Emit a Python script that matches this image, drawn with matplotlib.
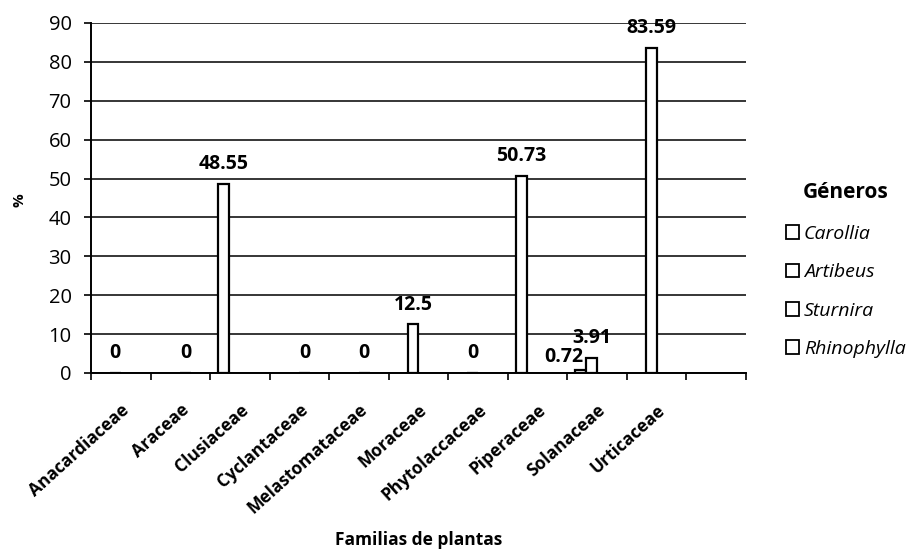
import numpy as np
import matplotlib
matplotlib.use("Agg")
import matplotlib.pyplot as plt
from matplotlib.patches import Patch

plt.rcParams['font.family'] = ['Open Sans', 'DejaVu Sans']

categories = ["Anacardiaceae", "Araceae", "Clusiaceae", "Cyclantaceae",
              "Melastomataceae", "Moraceae", "Phytolaccaceae", "Piperaceae",
              "Solanaceae", "Urticaceae", ""]
nan = np.nan
carollia = [nan, nan, 48.55, nan, nan, nan, nan, 50.73, 0.72, nan, nan]
artibeus = [0, nan, nan, nan, nan, 12.5, 0, nan, 3.91, 83.59, nan]
sturnira = [nan, 0, nan, 0, 0, nan, nan, nan, nan, nan, nan]
rhinophylla = [nan] * 11
series_names = ["Carollia", "Artibeus", "Sturnira", "Rhinophylla"]
series_values = [carollia, artibeus, sturnira, rhinophylla]
yticks = [0, 10, 20, 30, 40, 50, 60, 70, 80, 90]

fig = plt.figure(figsize=(9.14, 5.51), dpi=100)
ax = fig.add_axes([91/914, 1-373/551, (746-91)/914, (373-23)/551])

x = np.arange(len(categories))
w = 0.182
for i, (name, vals) in enumerate(zip(series_names, series_values)):
    pos = x + (i - 1.5) * w
    ax.bar(pos, vals, width=w, facecolor='white', edgecolor='black',
           linewidth=1.6, zorder=3)
    for px, v in zip(pos, vals):
        if np.isnan(v):
            continue
        small = (name == "Carollia" and 0 < v < 1)
        dx = -12 if small else 0
        dy = 2 if small else 7
        ax.annotate(f"{v:g}", (px, v), xytext=(dx, dy), textcoords='offset points',
                    ha='center', va='bottom', fontsize=14, fontweight='bold',
                    zorder=5)

ax.set_xlim(-0.5, len(categories) - 0.5)
ax.set_ylim(0, 90)
ax.set_yticks(yticks)
ax.set_yticklabels([str(t) for t in yticks], fontsize=14.5)
ax.yaxis.grid(True, color='black', linewidth=1.1, zorder=0)
ax.set_axisbelow(True)

ax.set_xticks(x)
ax.set_xticklabels(categories, rotation=42, ha='right', va='top',
                   rotation_mode='anchor', fontsize=12.5, fontweight='bold')
ax.set_xticks(np.arange(-0.5, len(categories)), minor=True)
ax.tick_params(axis='x', which='major', length=0, pad=20)
ax.tick_params(axis='x', which='minor', length=5, width=1.2, color='black')
ax.tick_params(axis='y', length=5, width=1.2, pad=9, colors='black')

for s in ['top', 'right']:
    ax.spines[s].set_visible(False)
ax.spines['left'].set_linewidth(1.4)
ax.spines['bottom'].set_linewidth(1.4)

fig.text(20/914, 1-200/551, '%', rotation=90, ha='center', va='center',
         fontsize=11, fontweight='bold')
fig.text((91+746)/2/914, 1-540/551, 'Familias de plantas', ha='center',
         va='center', fontsize=12.5, fontweight='bold')

handles = [Patch(facecolor='white', edgecolor='black', linewidth=1.3)
           for _ in series_names]
leg = fig.legend(handles, series_names, loc='upper left',
                 bbox_to_anchor=(768/914, 1-164/551), frameon=False,
                 title='Géneros', handlelength=0.7, handleheight=0.7,
                 handletextpad=0.25, labelspacing=1.05, alignment='center',
                 prop={'style': 'italic', 'size': 14},
                 title_fontproperties={'weight': 'bold', 'size': 15})
leg._legend_box.sep = 16

fig.savefig('out.png', dpi=100)
